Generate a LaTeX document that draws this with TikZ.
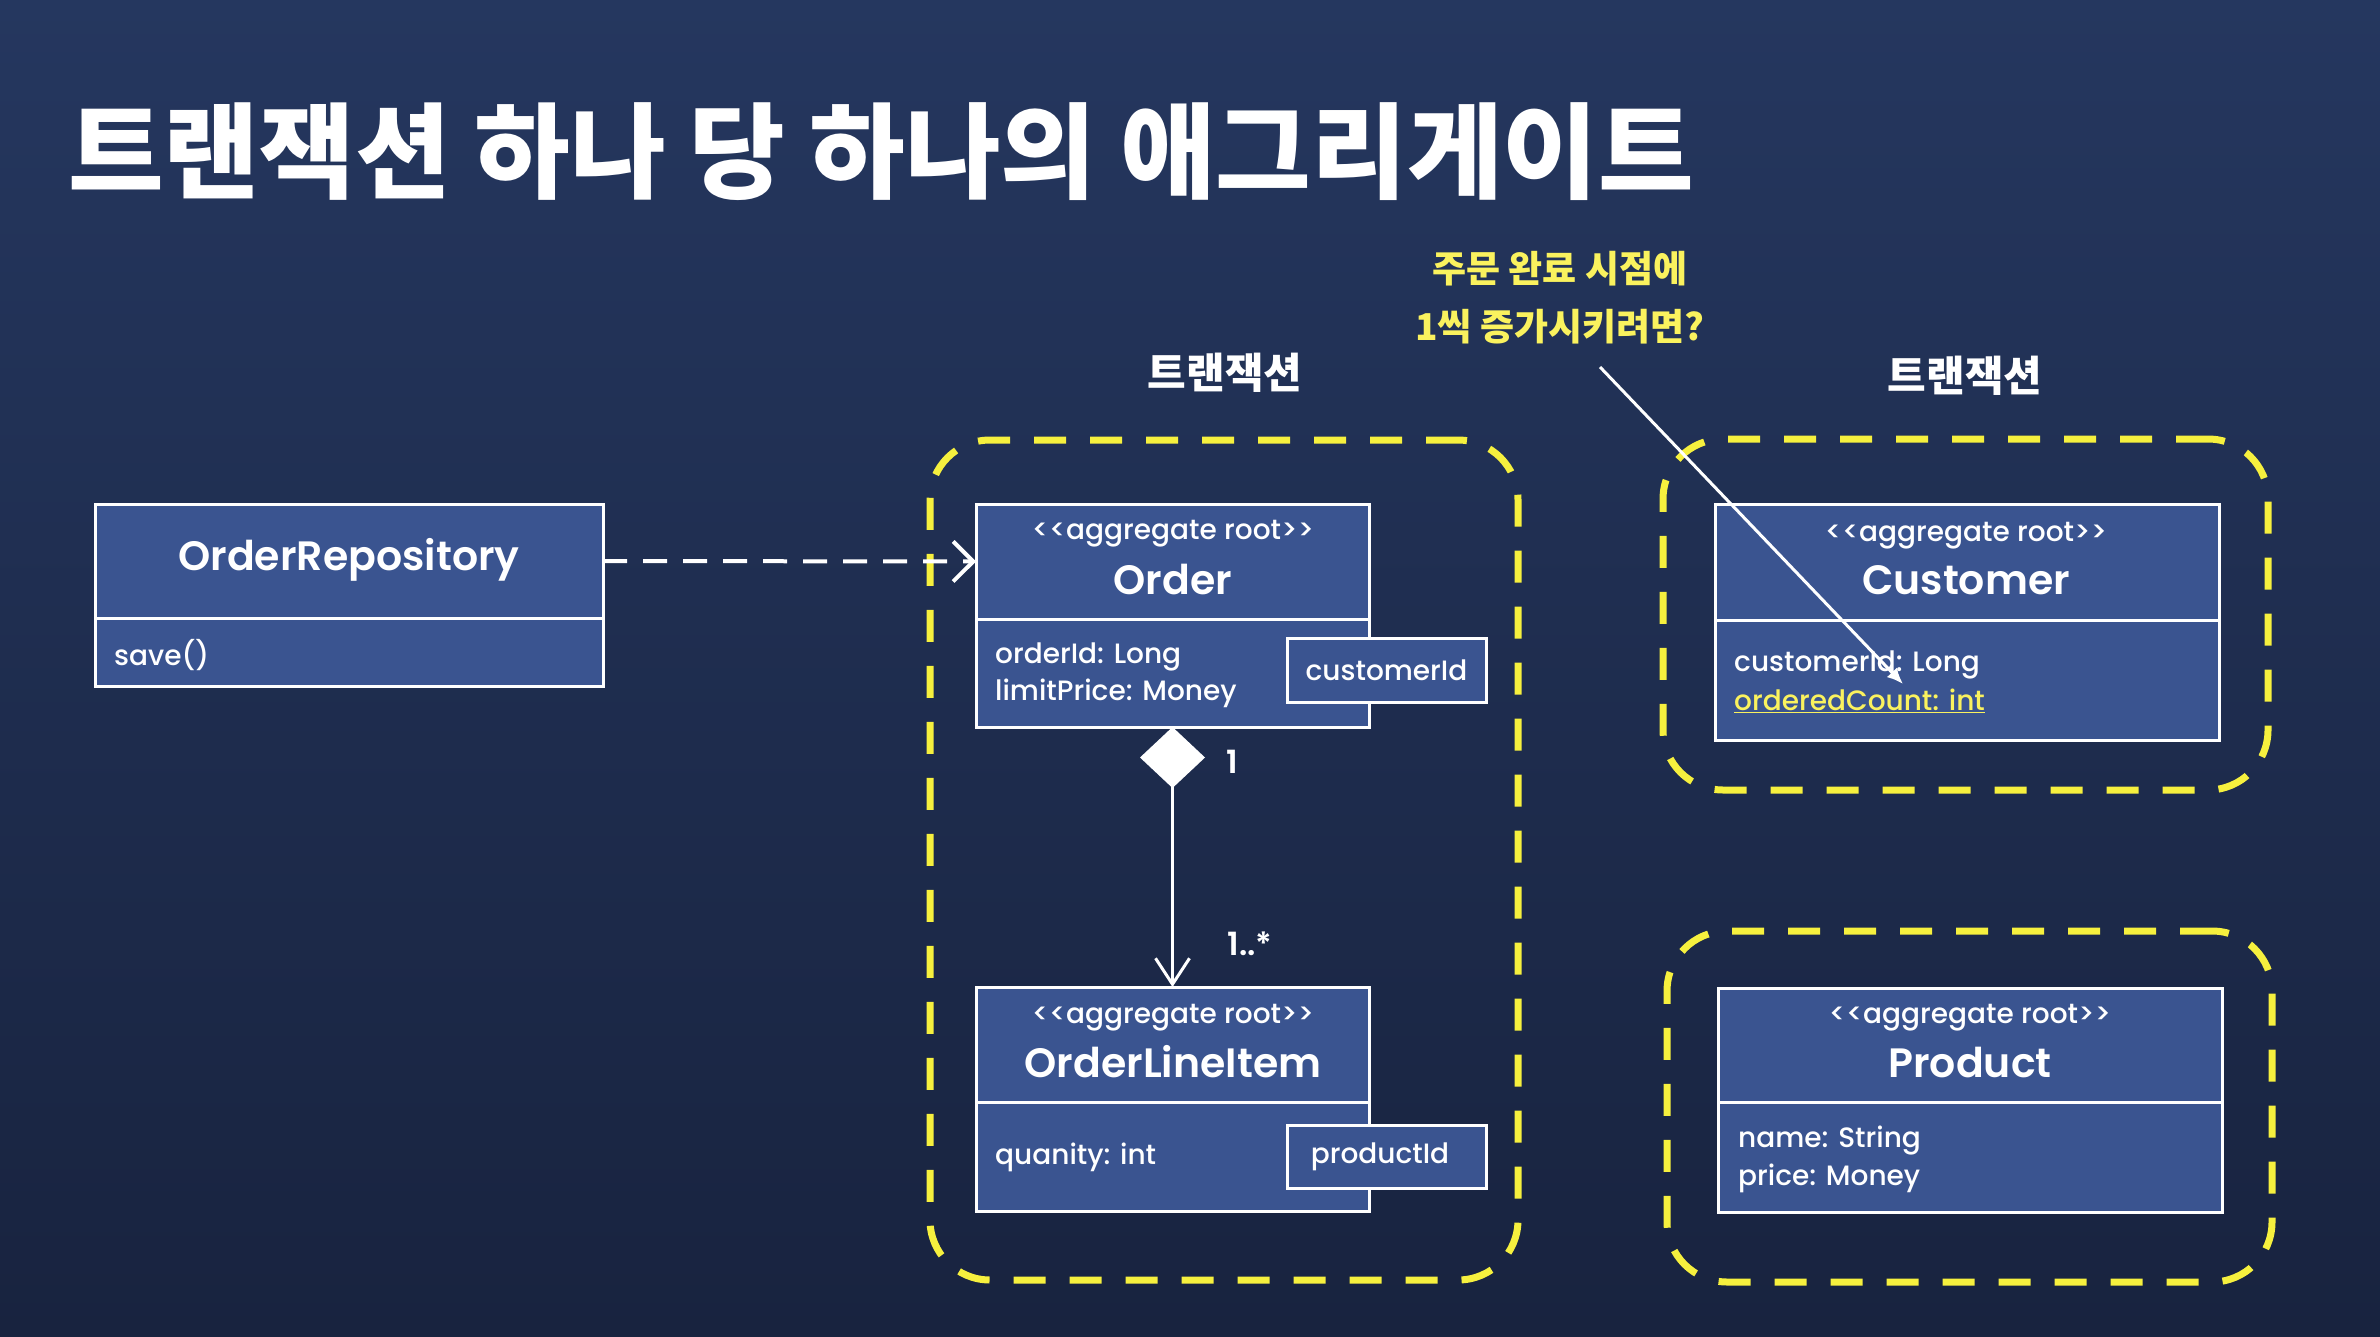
\documentclass[tikz,border=0pt]{standalone}
\usepackage{fontspec}
\setmainfont{Poppins}
\newfontfamily\umlfont{Poppins Medium}
\newfontfamily\umlname{Poppins SemiBold}
\newfontfamily\krfont{Noto Sans CJK KR}
\usetikzlibrary{arrows.meta,shapes.geometric}
\definecolor{bgtop}{HTML}{25375F}
\definecolor{bgbot}{HTML}{18233F}
\definecolor{boxfill}{HTML}{3A5490}
\definecolor{ylw}{HTML}{F6F03E}
\definecolor{ytext}{HTML}{FAF25E}
\begin{document}
\begin{tikzpicture}[x=1pt,y=-1pt,
  box/.style={draw=white, line width=3pt, fill=boxfill, inner sep=0pt, outer sep=0pt},
  aggbox/.style={draw=ylw, line width=7pt, dash pattern=on 32pt off 24pt, rounded corners=60pt, inner sep=0pt},
  stereo/.style={text=white, inner sep=0pt, font=\umlfont\fontsize{28}{35}\selectfont},
  cname/.style={text=white, inner sep=0pt, font=\umlname\fontsize{41}{50}\selectfont},
  attr/.style={text=white, inner sep=0pt, anchor=west, align=left, font=\umlfont\fontsize{28}{37}\selectfont},
  krlabel/.style={text=white, inner sep=0pt, font=\krfont\bfseries\fontsize{42}{50}\selectfont},
  mult/.style={text=white, inner sep=0pt, font=\umlname\fontsize{32}{38}\selectfont}]
\shade[top color=bgtop, bottom color=bgbot] (0,0) rectangle (2380,1336);
\useasboundingbox (0,0) rectangle (2380,1336);

% title
\node[text=white, inner sep=0pt, anchor=west, font=\krfont\bfseries\fontsize{104}{120}\selectfont] (title) at (68,152) {트랜잭션 하나 당 하나의 애그리게이트};

% aggregate boundaries
\node[aggbox, minimum width=588pt, minimum height=840pt] (aggA) at (1224,860) {};
\node[aggbox, minimum width=605pt, minimum height=351pt] (aggB) at (1965.5,614.5) {};
\node[aggbox, minimum width=605pt, minimum height=351pt] (aggC) at (1969.5,1106.5) {};

\node[krlabel] (txA) at (1225,373) {트랜잭션};
\node[krlabel] (txB) at (1965,376) {트랜잭션};

% OrderRepository
\node[box, minimum width=508pt, minimum height=114pt] (repoH) at (349,561) {};
\node[box, minimum width=508pt, minimum height=68pt] (repoB) at (349,652) {};
\node[cname] (repoN) at (349,560) {OrderRepository};
\node[attr] (repoM) at (114,655) {save()};

% Order
\node[box, minimum width=393pt, minimum height=115pt] (orderH) at (1172.5,561.5) {};
\node[box, minimum width=393pt, minimum height=108pt] (orderB) at (1172.5,673) {};
\node[stereo] (orderS) at (1173,534) {<<aggregate root>>};
\node[cname] (orderN) at (1173,580) {Order};
\node[attr] (orderA) at (995,675.5) {orderId: Long\\limitPrice: Money};
\node[box, minimum width=199pt, minimum height=64pt] (custRef) at (1386.5,670) {};
\node[stereo] (custRefT) at (1386.5,670) {customerId};

% OrderLineItem
\node[box, minimum width=393pt, minimum height=115pt] (oliH) at (1172.5,1044.5) {};
\node[box, minimum width=393pt, minimum height=109pt] (oliB) at (1172.5,1156.5) {};
\node[stereo] (oliS) at (1173,1018) {<<aggregate root>>};
\node[cname] (oliN) at (1173,1062) {OrderLineItem};
\node[attr] (oliA) at (995,1157) {quanity: int};
\node[box, minimum width=199pt, minimum height=63pt] (prodRef) at (1386.5,1156.5) {};
\node[stereo] (prodRefT) at (1380,1156.5) {productId};

% Customer
\node[box, minimum width=504pt, minimum height=116pt] (custH) at (1967,562) {};
\node[box, minimum width=504pt, minimum height=120pt] (custB) at (1967,680) {};
\node[stereo] (custS) at (1966,536) {<<aggregate root>>};
\node[cname] (custN) at (1966,580) {Customer};
\node[attr, font=\umlfont\fontsize{28}{39}\selectfont] (custA) at (1734,681.5) {customerId: Long\\{\color{ytext}\underline{orderedCount: int}}};

% Product
\node[box, minimum width=504pt, minimum height=114pt] (prodH) at (1970,1045) {};
\node[box, minimum width=504pt, minimum height=110pt] (prodB) at (1970,1157) {};
\node[stereo] (prodS) at (1970,1018) {<<aggregate root>>};
\node[cname] (prodN) at (1970,1063) {Product};
\node[attr, font=\umlfont\fontsize{28}{38}\selectfont] (prodA) at (1738,1159) {name: String\\price: Money};

% connectors
\draw[white, line width=4pt, dash pattern=on 24pt off 16pt, -{Straight Barb[length=20pt,width=40pt]}] (repoH.east) -- (orderH.west);
\draw[white, line width=3pt, {Diamond[length=61pt,width=65pt,fill=white]}-{Straight Barb[length=26pt,width=34pt]}] (orderB.south) -- (oliH.north);
\node[mult] (m1) at (1232,762) {1};
\node[mult] (m2) at (1250,944) {1..*};

% annotation
\node[text=ytext, inner sep=0pt, align=center, font=\krfont\bfseries\fontsize{37}{58}\selectfont] (note) at (1560,298) {주문 완료 시점에\\1씩 증가시키려면?};
\coordinate (noteFrom) at (1600,367);
\coordinate (noteTo) at (1903,684);
\draw[white, line width=3pt, -{Latex[length=16pt,width=14pt]}] (noteFrom) -- (noteTo);
\end{tikzpicture}
\end{document}
